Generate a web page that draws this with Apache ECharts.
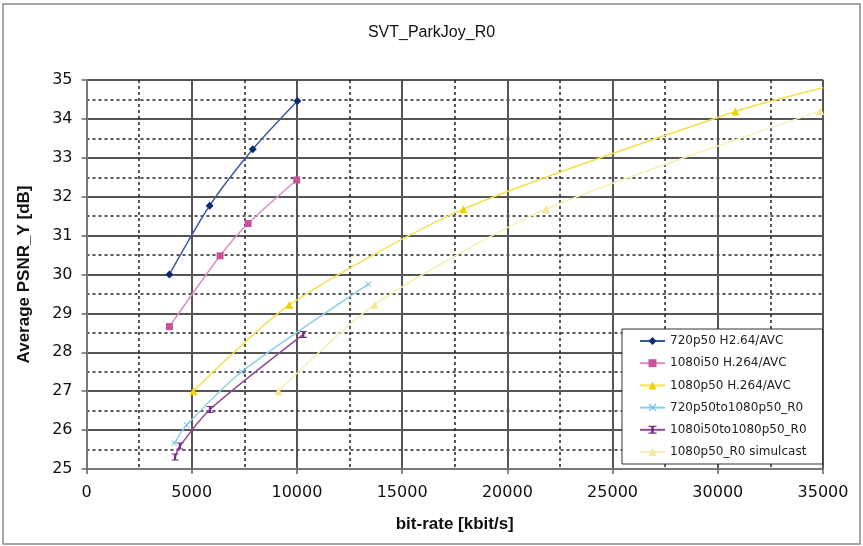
<!DOCTYPE html>
<html>
<head>
<meta charset="utf-8">
<title>SVT_ParkJoy_R0</title>
<script src="https://cdn.jsdelivr.net/npm/echarts@6.0.0/dist/echarts.min.js"></script>
<style>
  html, body { margin: 0; padding: 0; background: #fff; }
  #chart { width: 863px; height: 546px; }
</style>
</head>
<body>
<div id="chart"></div>
<script>
// ---- data: [bit-rate kbit/s, PSNR dB] ----
const seriesNames = [
    '720p50 H2.64/AVC',
    '1080i50 H.264/AVC',
    '1080p50 H.264/AVC',
    '720p50to1080p50_R0',
    '1080i50to1080p50_R0',
    '1080p50_R0 simulcast'
];

const avc720p = [[3940, 30.0], [5850, 31.77], [7900, 33.22], [10020, 34.46]];
const avc1080i = [[3940, 28.66], [6350, 30.48], [7680, 31.31], [9990, 32.43]];
const avc1080p = [[5080, 27.0], [9640, 29.22], [17910, 31.68], [30840, 34.19]];
const avc1080pEdge = [35000, 34.8]; // line runs out of the plot here, no marker
const r0From720p = [[4170, 25.66], [4760, 26.13], [7380, 27.5], [13400, 29.75]];
const r0From1080i = [[4210, 25.31], [4440, 25.59], [5870, 26.53], [10300, 28.46]];
const simulcast = [[9120, 27.0], [13680, 29.22], [21840, 31.68], [34870, 34.2]];

const xTicks = { min: 0, max: 35000, step: 5000 };
const yTicks = { min: 25, max: 35, step: 1 };

// ---- chart ----
const chart = echarts.init(document.getElementById('chart'), null, { renderer: 'canvas' });

const crossPath = 'path://M0,1L1,0L5,4L9,0L10,1L6,5L10,9L9,10L5,6L1,10L0,9L4,5Z';
const barPath = 'path://M0,0L6,0L6,1.5L4,1.5L4,8.5L6,8.5L6,10L0,10L0,8.5L2,8.5L2,1.5L0,1.5Z';

function line(name, data, lineColor, markColor, symbol, size) {
    return {
        name: name,
        type: 'line',
        data: data,
        smooth: 0.25,
        symbol: symbol,
        symbolSize: size,
        showAllSymbol: true,
        clip: true,
        lineStyle: { color: lineColor, width: 1.5 },
        itemStyle: { color: markColor },
        emphasis: { disabled: true }
    };
}

chart.setOption({
    animation: false,
    backgroundColor: '#fff',
    textStyle: { fontFamily: 'Liberation Sans, Arial, sans-serif' },
    title: {
        text: 'SVT_ParkJoy_R0',
        left: 'center',
        top: 20,
        textStyle: { fontSize: 16, fontWeight: 'normal', color: '#111' }
    },
    graphic: [{
        type: 'rect',
        shape: { x: 3, y: 4, width: 857, height: 540 },
        style: { fill: 'none', stroke: '#8a8a8a', lineWidth: 1.5 },
        silent: true
    }],
    grid: { left: 86.5, right: 40, top: 80, bottom: 77 },
    legend: {
        orient: 'vertical',
        left: 622,
        top: 329,
        padding: [6, 16, 6, 17],
        itemWidth: 25,
        itemHeight: 10,
        itemGap: 10.2,
        backgroundColor: '#fff',
        borderColor: '#333',
        borderWidth: 1,
        textStyle: { fontFamily: 'DejaVu Sans', fontSize: 12, color: '#222' },
        data: seriesNames
    },
    xAxis: {
        type: 'value',
        min: xTicks.min,
        max: xTicks.max,
        interval: xTicks.step,
        name: 'bit-rate [kbit/s]',
        nameLocation: 'middle',
        nameGap: 47,
        nameTextStyle: { fontSize: 17, fontWeight: 'bold', color: '#111' },
        axisLine: { lineStyle: { color: '#777', width: 2 } },
        axisTick: { show: true, length: 5, lineStyle: { color: '#666', width: 1.5 } },
        axisLabel: {
            fontFamily: 'DejaVu Sans', fontSize: 16, color: '#111', margin: 16,
            formatter: v => String(v)
        },
        splitLine: { lineStyle: { color: '#555', width: 2 } },
        minorTick: { show: true, splitNumber: 2, length: 0 },
        minorSplitLine: { show: true, lineStyle: { color: '#222', width: 1.5, type: [3, 3] } }
    },
    yAxis: {
        type: 'value',
        min: yTicks.min,
        max: yTicks.max,
        interval: yTicks.step,
        name: 'Average PSNR_Y [dB]',
        nameLocation: 'middle',
        nameGap: 54,
        nameTextStyle: { fontSize: 17, fontWeight: 'bold', color: '#111' },
        axisLine: { show: true, lineStyle: { color: '#777', width: 2 } },
        axisTick: { show: true, length: 5, lineStyle: { color: '#666', width: 1.5 } },
        axisLabel: { fontFamily: 'DejaVu Sans', fontSize: 16, color: '#111', margin: 14 },
        splitLine: { lineStyle: { color: '#555', width: 2 } },
        minorTick: { show: true, splitNumber: 2, length: 0 },
        minorSplitLine: { show: true, lineStyle: { color: '#222', width: 1.5, type: [3, 3] } }
    },
    series: [
        line(seriesNames[0], avc720p, '#3a5aa0', '#0b2a72', 'diamond', 8),
        line(seriesNames[1], avc1080i, '#dc8cc6', '#c9509c', 'rect', 7),
        line(seriesNames[2], avc1080p.concat([{ value: avc1080pEdge, symbol: 'none' }]),
            '#f2e04a', '#f0d200', 'triangle', 8),
        line(seriesNames[3], r0From720p, '#8ccde6', '#6cc0e0', crossPath, 6),
        line(seriesNames[4], r0From1080i, '#8e4a9a', '#7a2a88', barPath, 7),
        line(seriesNames[5], simulcast, '#f6eeb2', '#f5e79a', 'triangle', 8)
    ]
});
</script>
</body>
</html>
